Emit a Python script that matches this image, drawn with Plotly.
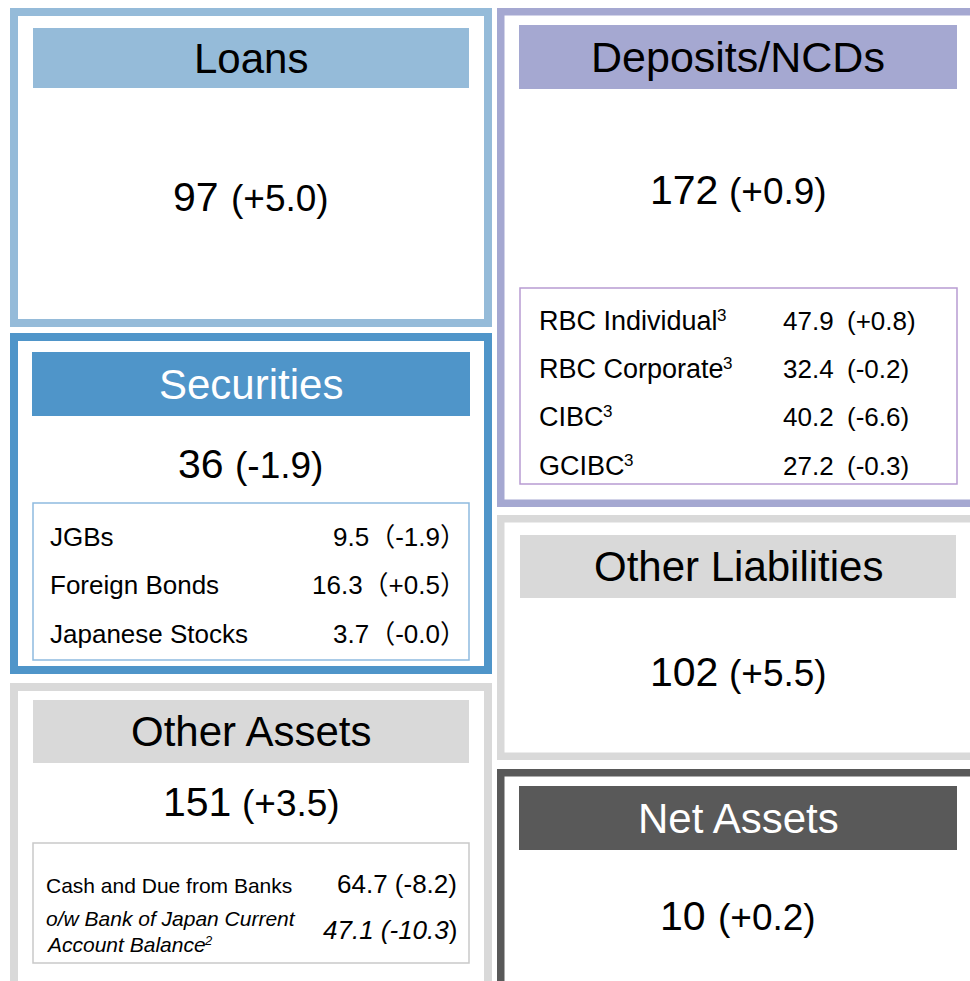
import plotly.graph_objects as go

# ---------------- data ----------------
asset_names = ["Loans", "Securities", "Other Assets"]
asset_values = [97, 36, 151]
asset_changes = ["+5.0", "-1.9", "+3.5"]

liab_names = ["Deposits/NCDs", "Other Liabilities", "Net Assets"]
liab_values = [172, 102, 10]
liab_changes = ["+0.9", "+5.5", "+0.2"]

sec_items = ["JGBs", "Foreign Bonds", "Japanese Stocks"]
sec_values = ["9.5", "16.3", "3.7"]
sec_changes = ["-1.9", "+0.5", "-0.0"]

dep_items = ["RBC Individual", "RBC Corporate", "CIBC", "GCIBC"]
dep_notes = ["3", "3", "3", "3"]
dep_values = ["47.9", "32.4", "40.2", "27.2"]
dep_changes = ["+0.8", "-0.2", "-6.6", "-0.3"]

oth_items = ["Cash and Due from Banks", "o/w Bank of Japan Current", "Account Balance"]
oth_notes = ["2"]
oth_values = ["64.7", "47.1"]
oth_changes = ["-8.2", "-10.3"]

# ---------------- styles / layout geometry ----------------
FONT = "Liberation Sans, Arial, Noto Sans CJK JP, sans-serif"
W, H = 970, 981

# Arial advance widths (em) for text measuring
AW = {c: 0.556 for c in "0123456789"}
AW.update({".": 0.278, " ": 0.278, "(": 0.333, ")": 0.333, "+": 0.584, "-": 0.333, "/": 0.278,
           "R": 0.722, "B": 0.667, "C": 0.722, "I": 0.278, "G": 0.778, "A": 0.667, "J": 0.5,
           "n": 0.556, "d": 0.556, "i": 0.222, "v": 0.5, "u": 0.556, "a": 0.556, "l": 0.222,
           "o": 0.556, "r": 0.333, "p": 0.556, "t": 0.278, "e": 0.556, "c": 0.5, "s": 0.5,
           "g": 0.556, "h": 0.556, "b": 0.556, "f": 0.278, "m": 0.833, "k": 0.5, "w": 0.722})


def tw(s, size):
    return sum(AW.get(ch, 0.556) for ch in s) * size


left_panels = [
    dict(box=(10, 8, 492, 327), bw=8, col="#95BBD9", hdr=(33, 28, 469, 88), tcol="black",
         ty=58, vy=197, ts=42),
    dict(box=(10, 333, 492, 674), bw=8, col="#4F95C9", hdr=(32, 352, 470, 416), tcol="white",
         ty=384, vy=464, ts=42),
    dict(box=(10, 683, 492, 1010), bw=8, col="#D9D9D9", hdr=(33, 700, 469, 763), tcol="black",
         ty=731, vy=802, ts=42),
]
right_panels = [
    dict(box=(497, 8, 1000, 507), bw=7.5, col="#A5A8D1", hdr=(519, 25, 957, 89), tcol="black",
         ty=57, vy=190, ts=43),
    dict(box=(497, 515, 1000, 760), bw=7.5, col="#D9D9D9", hdr=(520, 535, 956, 598), tcol="black",
         ty=566, vy=672, ts=42),
    dict(box=(497, 769, 1000, 1010), bw=7.5, col="#595959", hdr=(519, 786, 957, 850), tcol="white",
         ty=818, vy=916, ts=42),
]
NUM_SIZE, CHG_SIZE = 41, 37

shapes = []
annotations = []


def ann(x, y, text, size, color="black", xanchor="center"):
    annotations.append(dict(x=x, y=y, xref="x", yref="y", text=text, showarrow=False,
                            xanchor=xanchor, yanchor="middle", align=xanchor if xanchor != "center" else "center",
                            borderpad=0, borderwidth=0,
                            font=dict(family=FONT, size=size, color=color)))


def panel(p, name, value, change):
    x0, y0, x1, y1 = p["box"]
    bw = p["bw"]
    shapes.append(dict(type="rect", xref="x", yref="y",
                       x0=x0 + bw / 2, y0=y0 + bw / 2, x1=x1 - bw / 2, y1=y1 - bw / 2,
                       line=dict(color=p["col"], width=bw), fillcolor="white", layer="below"))
    hx0, hy0, hx1, hy1 = p["hdr"]
    shapes.append(dict(type="rect", xref="x", yref="y", x0=hx0, y0=hy0, x1=hx1, y1=hy1,
                       line=dict(width=0), fillcolor=p["col"], layer="below"))
    cx = (hx0 + hx1) / 2
    ann(cx, p["ty"], name, p["ts"], p["tcol"])
    vtxt, ctxt = str(value), f"({change})"
    gap = tw(" ", NUM_SIZE)
    total = tw(vtxt, NUM_SIZE) + gap + tw(ctxt, CHG_SIZE)
    split = cx - total / 2 + tw(vtxt, NUM_SIZE)
    ann(split, p["vy"], vtxt, NUM_SIZE, xanchor="right")
    ann(split + gap, p["vy"] + 1, ctxt, CHG_SIZE, xanchor="left")


for p, n, v, c in zip(left_panels, asset_names, asset_values, asset_changes):
    panel(p, n, v, c)
for p, n, v, c in zip(right_panels, liab_names, liab_values, liab_changes):
    panel(p, n, v, c)

# inner detail boxes
inner = [((33, 503, 469, 660), "#8FBBDF"),
         ((520, 288, 957, 484), "#B89CD2"),
         ((33, 843, 469, 963), "#C9C9C9")]
for (x0, y0, x1, y1), col in inner:
    shapes.append(dict(type="rect", xref="x", yref="y", x0=x0, y0=y0, x1=x1, y1=y1,
                       line=dict(color=col, width=1.5), fillcolor="rgba(0,0,0,0)"))

# securities rows
sec_y = [537, 585, 634]
for name, val, chg, y in zip(sec_items, sec_values, sec_changes, sec_y):
    ann(50, y, name, 26, xanchor="left")
    ann(466, y, f"{val}（{chg}）", 26, xanchor="right")

# deposit rows
dep_y = [321, 369, 417, 466]
LBL = 27
for name, note, val, chg, y in zip(dep_items, dep_notes, dep_values, dep_changes, dep_y):
    ann(539, y, name, LBL, xanchor="left")
    ann(539 + tw(name, LBL) - 1, y - 6, note, 17, xanchor="left")
    ann(783, y, val, 26, xanchor="left")
    ann(847, y, f"({chg})", 26, xanchor="left")

# other assets rows
ann(46, 885, oth_items[0], 21, xanchor="left")
ann(457, 884, f"{oth_values[0]} ({oth_changes[0]})", 26, xanchor="right")
ann(46, 918, f"<i>{oth_items[1]}</i>", 21, xanchor="left")
ann(46, 944, f"<i>{oth_items[2]}</i>", 21, xanchor="left")
ann(46 + tw(oth_items[2], 21), 940, f"<i>{oth_notes[0]}</i>", 13, xanchor="left")
ann(457, 930, f"<i>{oth_values[1]} ({oth_changes[1]}</i>)", 26, xanchor="right")

fig = go.Figure()
fig.update_layout(
    width=W, height=H,
    margin=dict(l=0, r=0, t=0, b=0),
    paper_bgcolor="white", plot_bgcolor="white",
    xaxis=dict(range=[0, W], visible=False, fixedrange=True),
    yaxis=dict(range=[H, 0], visible=False, fixedrange=True),
    shapes=shapes, annotations=annotations,
    showlegend=False,
)

fig.write_html("out.html", config={"displayModeBar": False},
               post_script="document.body.style.margin='0';document.body.style.overflow='hidden';")
